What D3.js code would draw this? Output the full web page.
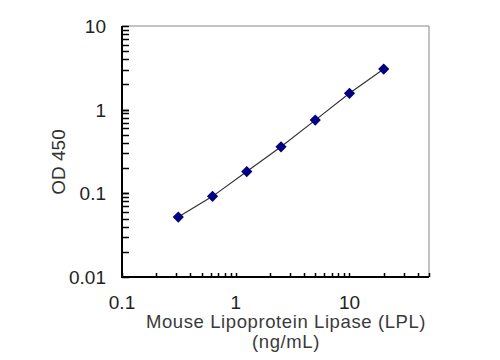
<!DOCTYPE html>
<html><head><meta charset="utf-8">
<script src="https://cdn.jsdelivr.net/npm/d3@7"></script>
<style>body{margin:0;background:#fff}svg{display:block}text{font-family:"Liberation Sans",Arial,sans-serif}</style>
</head><body><svg id="c" width="500" height="360"></svg>
<script>
const concentrations = [0.3125, 0.625, 1.25, 2.5, 5, 10, 20];
const odValues = [0.052, 0.092, 0.182, 0.36, 0.75, 1.57, 3.06];
const xTickLabels = [0.1, 1, 10];
const yTickLabels = [0.01, 0.1, 1, 10];
const xTitle = ["Mouse Lipoprotein Lipase (LPL)", "(ng/mL)"];
const yTitle = "OD 450";

const svg = d3.select("#c");
const L = 122, R = 429, T = 26, B = 277;
const x = d3.scaleLog().domain([0.1, 50]).range([L, R]);
const y = d3.scaleLog().domain([0.01, 10]).range([B, T]);

// frame top/right
svg.append("line").attr("x1", L).attr("x2", R).attr("y1", T).attr("y2", T).attr("stroke", "#888").attr("stroke-width", 1);
svg.append("line").attr("x1", R).attr("x2", R).attr("y1", T).attr("y2", B).attr("stroke", "#888").attr("stroke-width", 1);

// minor/major ticks
const yTicks = [];
for (let d = 0.01; d < 10; d *= 10) for (let k = 1; k <= 10; k++) yTicks.push(d * k);
svg.append("g").selectAll("line").data(yTicks).join("line")
  .attr("x1", L).attr("x2", L + 7)
  .attr("y1", d => Math.round(y(d)) + 0.5).attr("y2", d => Math.round(y(d)) + 0.5)
  .attr("stroke", "#000").attr("stroke-width", 1.5);
const xTicks = [];
for (let d = 0.1; d < 100; d *= 10) for (let k = 1; k <= 9; k++) if (d * k <= 50) xTicks.push(d * k);
svg.append("g").selectAll("line").data(xTicks).join("line")
  .attr("x1", d => Math.round(x(d)) + 0.5).attr("x2", d => Math.round(x(d)) + 0.5)
  .attr("y1", B).attr("y2", B - 4)
  .attr("stroke", "#000").attr("stroke-width", 1.5);

// axes lines
svg.append("line").attr("x1", L).attr("x2", L).attr("y1", T).attr("y2", B + 1).attr("stroke", "#000").attr("stroke-width", 2);
svg.append("line").attr("x1", L - 1).attr("x2", R).attr("y1", B).attr("y2", B).attr("stroke", "#000").attr("stroke-width", 2);

// tick labels
svg.append("g").selectAll("text").data(yTickLabels).join("text")
  .attr("x", L - 16).attr("y", d => y(d) + 7).attr("text-anchor", "end")
  .attr("font-size", 19).attr("fill", "#222").text(d => String(d));
svg.append("g").selectAll("text").data(xTickLabels).join("text")
  .attr("x", d => x(d)).attr("y", 309).attr("text-anchor", "middle")
  .attr("font-size", 19).attr("fill", "#222").text(d => String(d));

// titles
svg.append("g").selectAll("text").data(xTitle).join("text")
  .attr("x", 286).attr("y", (d, i) => 328 + i * 20).attr("text-anchor", "middle")
  .attr("font-size", 18.5).attr("letter-spacing", 0.6).attr("fill", "#3a3a3a").text(d => d);
svg.append("text").attr("transform", "translate(65,162) rotate(-90)")
  .attr("text-anchor", "middle").attr("font-size", 19).attr("fill", "#333").text(yTitle);

// line
const pts = concentrations.map((c, i) => [c, odValues[i]]);
svg.append("path").datum(pts)
  .attr("d", d3.line().x(d => x(d[0])).y(d => y(d[1])))
  .attr("fill", "none").attr("stroke", "#333").attr("stroke-width", 1.2);

// markers
svg.append("g").selectAll("path").data(pts).join("path")
  .attr("transform", d => `translate(${x(d[0])},${y(d[1])})`)
  .attr("d", d3.symbol(d3.symbolDiamond2, 80)())
  .attr("fill", "#000080");
</script></body></html>
